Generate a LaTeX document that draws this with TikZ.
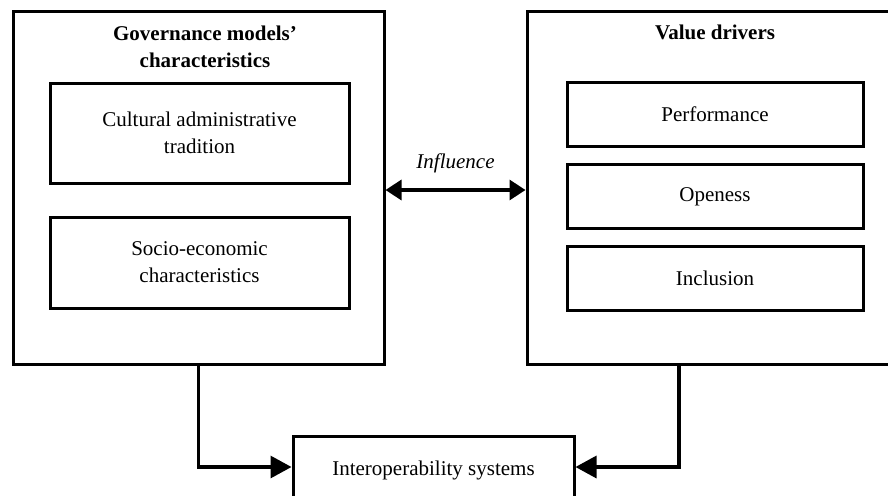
\documentclass[tikz,border=0pt]{standalone}
\usepackage{fontspec}
\setmainfont{Liberation Serif}
\usetikzlibrary{arrows.meta}
\begin{document}
\begin{tikzpicture}[x=1pt,y=-1pt,
 every node/.style={font=\fontsize{21}{27}\selectfont,align=center},
 bigbox/.style={draw,line width=3pt,inner sep=0pt},
 smallbox/.style={draw,line width=3pt,inner sep=0pt},
 head/.style={font=\fontsize{21}{27}\selectfont\bfseries},
 link/.style={line width=3.2pt,-{Triangle[length=21pt,width=22pt]}}]
\useasboundingbox (0,0) rectangle (888,495);
\clip (0,0) rectangle (888,495);
% the two outer frames
\node[bigbox,minimum width=371pt,minimum height=352pt] (gov) at (198.5,188) {};
\node[bigbox,minimum width=376pt,minimum height=352pt] (val) at (715,188) {};
\node[head] (govtitle) at (205,47) {Governance models'\\characteristics};
\node[head] (valtitle) at (715,32) {Value drivers};
% left side
\node[smallbox,minimum width=299pt,minimum height=100pt] (cult) at (199.5,133) {Cultural administrative\\tradition};
\node[smallbox,minimum width=299pt,minimum height=91pt] (socio) at (199.5,262.5) {Socio-economic\\characteristics};
% right side
\foreach \y/\nm/\lab in {114.5/perf/Performance,196.5/open/Openess,278/incl/Inclusion}{
  \node[smallbox,minimum width=296pt,minimum height=64pt] (\nm) at (715,\y) {\lab};
}
% bottom box, cut by the frame
\node[bigbox,minimum width=281pt,minimum height=62pt] (interop) at (433.5,467) {};
\node (interoplab) at (433.5,470) {Interoperability systems};
\draw[line width=3.2pt,{Triangle[length=16pt,width=20pt]}-{Triangle[length=16pt,width=20pt]}] ([yshift=-2pt]gov.east) -- node[above=12pt,font=\fontsize{21}{27}\selectfont\itshape] (infl) {Influence} ([yshift=-2pt]val.west);
\draw[link] (gov.south) |- (interop.west);
\draw[link] ([xshift=-36pt]val.south) |- (interop.east);
\end{tikzpicture}
\end{document}
